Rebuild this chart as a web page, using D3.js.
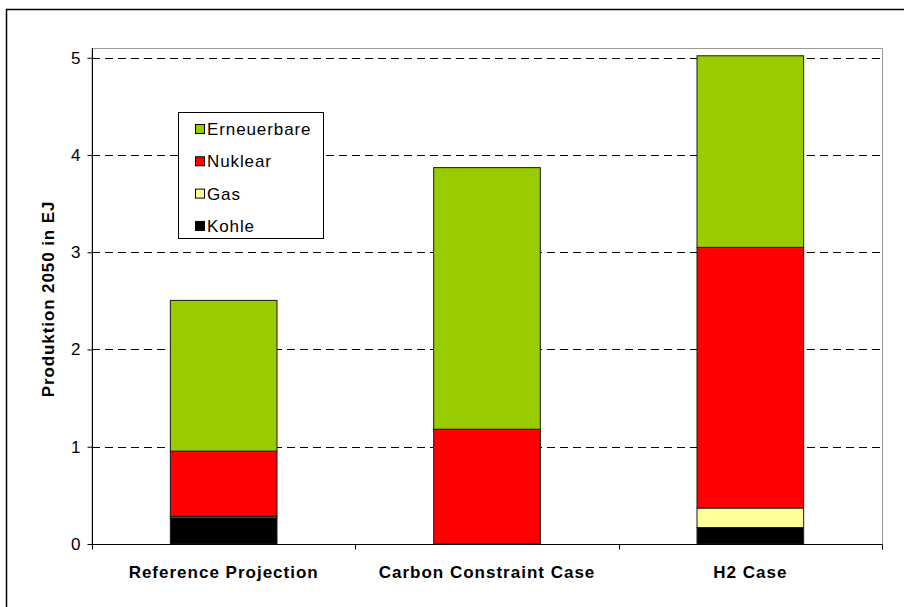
<!DOCTYPE html>
<html>
<head>
<meta charset="utf-8">
<script src="https://cdn.jsdelivr.net/npm/d3@7"></script>
<style>
  html, body { margin: 0; padding: 0; background: #fff; }
  svg { display: block; font-family: Arial, "Liberation Sans", sans-serif; }
</style>
</head>
<body>
<svg id="chart" width="904" height="607"></svg>
<script>
// Energy production in 2050 by scenario (EJ)
const categories = ["Reference Projection", "Carbon Constraint Case", "H2 Case"];
const seriesNames = ["Kohle", "Gas", "Nuklear", "Erneuerbare"];
const kohle = [0.27, 0.0, 0.17];
const gas = [0.015, 0.0, 0.20];
const nuklear = [0.67, 1.18, 2.68];
const erneuerbare = [1.55, 2.69, 1.97];
const yTicks = [0, 1, 2, 3, 4, 5];
const colors = { Kohle: "#000000", Gas: "#FFFF99", Nuklear: "#FF0000", Erneuerbare: "#99CC00" };
const legendOrder = ["Erneuerbare", "Nuklear", "Gas", "Kohle"];
const yTitle = "Produktion 2050 in EJ";

const rows = categories.map((c, i) => ({
  category: c, Kohle: kohle[i], Gas: gas[i], Nuklear: nuklear[i], Erneuerbare: erneuerbare[i]
}));
const stacked = d3.stack().keys(seriesNames)(rows);

const FONT = "Arial, 'Liberation Sans', sans-serif";
const svg = d3.select("#chart");
const plot = { left: 92, top: 48, right: 882, bottom: 544 };

// outer chart frame
svg.append("rect")
  .attr("x", 6.5).attr("y", 9.5).attr("width", 920).attr("height", 620)
  .attr("fill", "#fff").attr("stroke", "#000").attr("stroke-width", 1.5);

const x = d3.scaleBand().domain(categories).range([plot.left, plot.right]).paddingInner(0).paddingOuter(0);
const y = d3.scaleLinear().domain([0, 5.1]).range([plot.bottom, plot.top]);

// plot area border
svg.append("rect")
  .attr("x", plot.left).attr("y", plot.top + 0.5)
  .attr("width", plot.right - plot.left + 0.5).attr("height", plot.bottom - plot.top)
  .attr("fill", "none").attr("stroke", "#9a9a9a").attr("stroke-width", 1);

// dashed gridlines
svg.append("g").selectAll("line")
  .data(yTicks.filter(t => t > 0))
  .join("line")
  .attr("x1", plot.left).attr("x2", plot.right)
  .attr("y1", d => Math.round(y(d)) + 0.5).attr("y2", d => Math.round(y(d)) + 0.5)
  .attr("stroke", "#000").attr("stroke-width", 1).attr("stroke-dasharray", "8,5");

// stacked bars
const bw = x.bandwidth() * 0.405;
svg.append("g").selectAll("g")
  .data(stacked)
  .join("g")
  .attr("fill", d => colors[d.key])
  .selectAll("rect")
  .data(d => d.filter(s => s[1] - s[0] > 0))
  .join("rect")
  .attr("x", d => x(d.data.category) + (x.bandwidth() - bw) / 2)
  .attr("width", bw)
  .attr("y", d => y(d[1]))
  .attr("height", d => y(d[0]) - y(d[1]))
  .attr("stroke", "#1a1a1a").attr("stroke-width", 1);

// y axis
const yAxis = d3.axisLeft(y).tickValues(yTicks).tickSize(5).tickPadding(7).tickFormat(d3.format("d"));
const gy = svg.append("g").attr("transform", `translate(${plot.left + 0.5},0)`).call(yAxis);
gy.select(".domain").attr("stroke", "#000").attr("d", `M0,${plot.top}V${plot.bottom}`);
gy.selectAll(".tick line").attr("stroke", "#000");
gy.selectAll(".tick text").attr("font-size", 17).attr("fill", "#000").attr("font-family", FONT);

// x axis
const xAxis = d3.axisBottom(x).tickSize(0).tickPadding(21);
const gx = svg.append("g").attr("transform", `translate(0,${plot.bottom + 0.5})`).call(xAxis);
gx.select(".domain").attr("stroke", "#000").attr("d", `M${plot.left},0H${plot.right}`);
gx.selectAll(".tick text").attr("font-size", 17).attr("font-weight", "bold").attr("fill", "#000")
  .attr("letter-spacing", 1.0).attr("font-family", FONT);
// category separators
const bounds = [plot.left, ...categories.map(c => x(c) + x.bandwidth())];
gx.selectAll(".sep").data(bounds).join("line")
  .attr("class", "sep")
  .attr("x1", d => Math.round(d) + 0.5).attr("x2", d => Math.round(d) + 0.5)
  .attr("y1", 0).attr("y2", 5).attr("stroke", "#000");

// y title
svg.append("text")
  .attr("transform", `translate(54,${(plot.top + plot.bottom) / 2 + 3}) rotate(-90)`)
  .attr("text-anchor", "middle")
  .attr("font-size", 17).attr("font-weight", "bold").attr("fill", "#000")
  .attr("letter-spacing", 0.9)
  .text(yTitle);

// legend
const lg = svg.append("g").attr("transform", "translate(178,112)");
lg.append("rect").attr("x", 0.5).attr("y", 0.5).attr("width", 145).attr("height", 126)
  .attr("fill", "#fff").attr("stroke", "#000").attr("stroke-width", 1);
const items = lg.selectAll(".item").data(legendOrder).join("g")
  .attr("class", "item")
  .attr("transform", (d, i) => `translate(0,${17 + i * 32.3})`);
items.append("rect").attr("x", 17.5).attr("y", -4.5).attr("width", 9).attr("height", 9)
  .attr("fill", d => colors[d]).attr("stroke", "#000").attr("stroke-width", 1);
items.append("text").attr("x", 29).attr("y", 0).attr("dy", "0.36em")
  .attr("font-size", 17).attr("letter-spacing", 0.9).attr("fill", "#000").text(d => d);
</script>
</body>
</html>
